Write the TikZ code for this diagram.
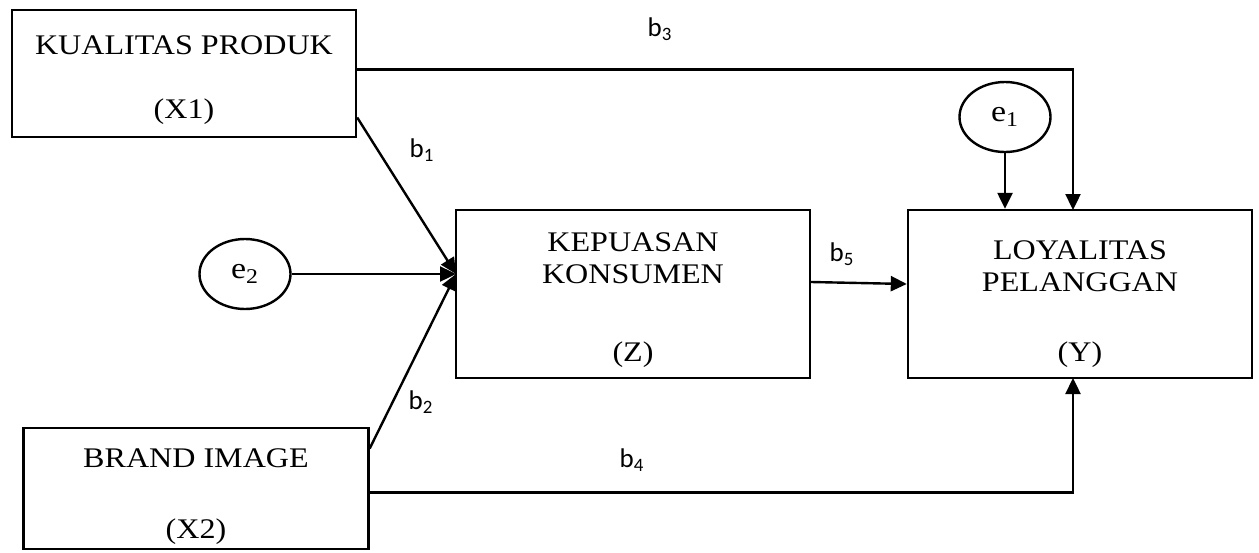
\documentclass[tikz,border=0pt]{standalone}
\usepackage{fontspec}
\setmainfont{Liberation Serif}[FakeStretch=1.13]
\newfontfamily\calibri{Carlito}
\usepackage{tikz}
\usetikzlibrary{positioning, shapes, arrows.meta}

% strut that pushes the first line of a box down
\newcommand{\topgap}[1]{\rule{0pt}{#1}}

\begin{document}
\begin{tikzpicture}[x=0.5pt, y=-0.5pt, line width=1.2pt,
    varbox/.style={draw, rectangle, align=center, inner sep=0pt, font=\fontsize{14.2}{16}\selectfont},
    errnode/.style={draw, ellipse, inner sep=0pt, minimum width=45.5pt, minimum height=35pt, font=\fontsize{15}{18}\selectfont},
    coef/.style={font=\calibri\fontsize{13.5}{15}\selectfont},
    arr/.style={-{Triangle[length=8pt, width=7.5pt]}}]
      \useasboundingbox (0,0) rectangle (1259,552);

      % Variables
      \node[varbox, minimum width=172pt, minimum height=63.5pt] (x1) at (184, 73.5) {
        \topgap{16pt}KUALITAS PRODUK\\[16pt] (X1)
      };
      \node[varbox, minimum width=172.5pt, minimum height=60.5pt] (x2) at (196, 488.5) {
        \topgap{18pt}BRAND IMAGE\\[19.5pt] (X2)
      };
      \node[varbox, minimum width=177pt, minimum height=84pt] (z) at (633, 294) {
        \topgap{16pt}KEPUASAN\\ KONSUMEN\\[23pt] (Z)
      };
      \node[varbox, minimum width=172pt, minimum height=84pt] (y) at (1080, 294) {
        \topgap{20pt}LOYALITAS\\ PELANGGAN\\[19pt] (Y)
      };

      % Error terms
      \node[errnode] (e1) at (1005, 117) {e\textsubscript{1}};
      \node[errnode] (e2) at (245, 274) {e\textsubscript{2}};

      % Arrow ends
      \coordinate (zin) at (456, 274);
      \coordinate (ytop) at (1073, 210);
      \coordinate (ybot) at (1073, 378);

      % Arrows
      \draw[arr] ([yshift=-22pt]x1.east) -- (zin);
      \draw[arr] (e2) -- (zin);
      \draw[arr] ([yshift=20pt]x2.east) -- (zin);
      \draw[arr] ([yshift=2pt]x1.east) -| (ytop);
      \draw[arr] ([yshift=-2pt]x2.east) -| (ybot);
      \draw[arr] (e1) -- (e1 |- y.north);
      \draw[arr] ([yshift=6pt]z.east) -- ([yshift=5pt]y.west);

      % Labels
      \node[coef] (b1) at (422, 150) {b\textsubscript{1}};
      \node[coef] (b2) at (421, 402) {b\textsubscript{2}};
      \node[coef] (b3) at (660, 29) {b\textsubscript{3}};
      \node[coef] (b4) at (632, 460) {b\textsubscript{4}};
      \node[coef] (b5) at (842, 254) {b\textsubscript{5}};
    \end{tikzpicture}
\end{document}
